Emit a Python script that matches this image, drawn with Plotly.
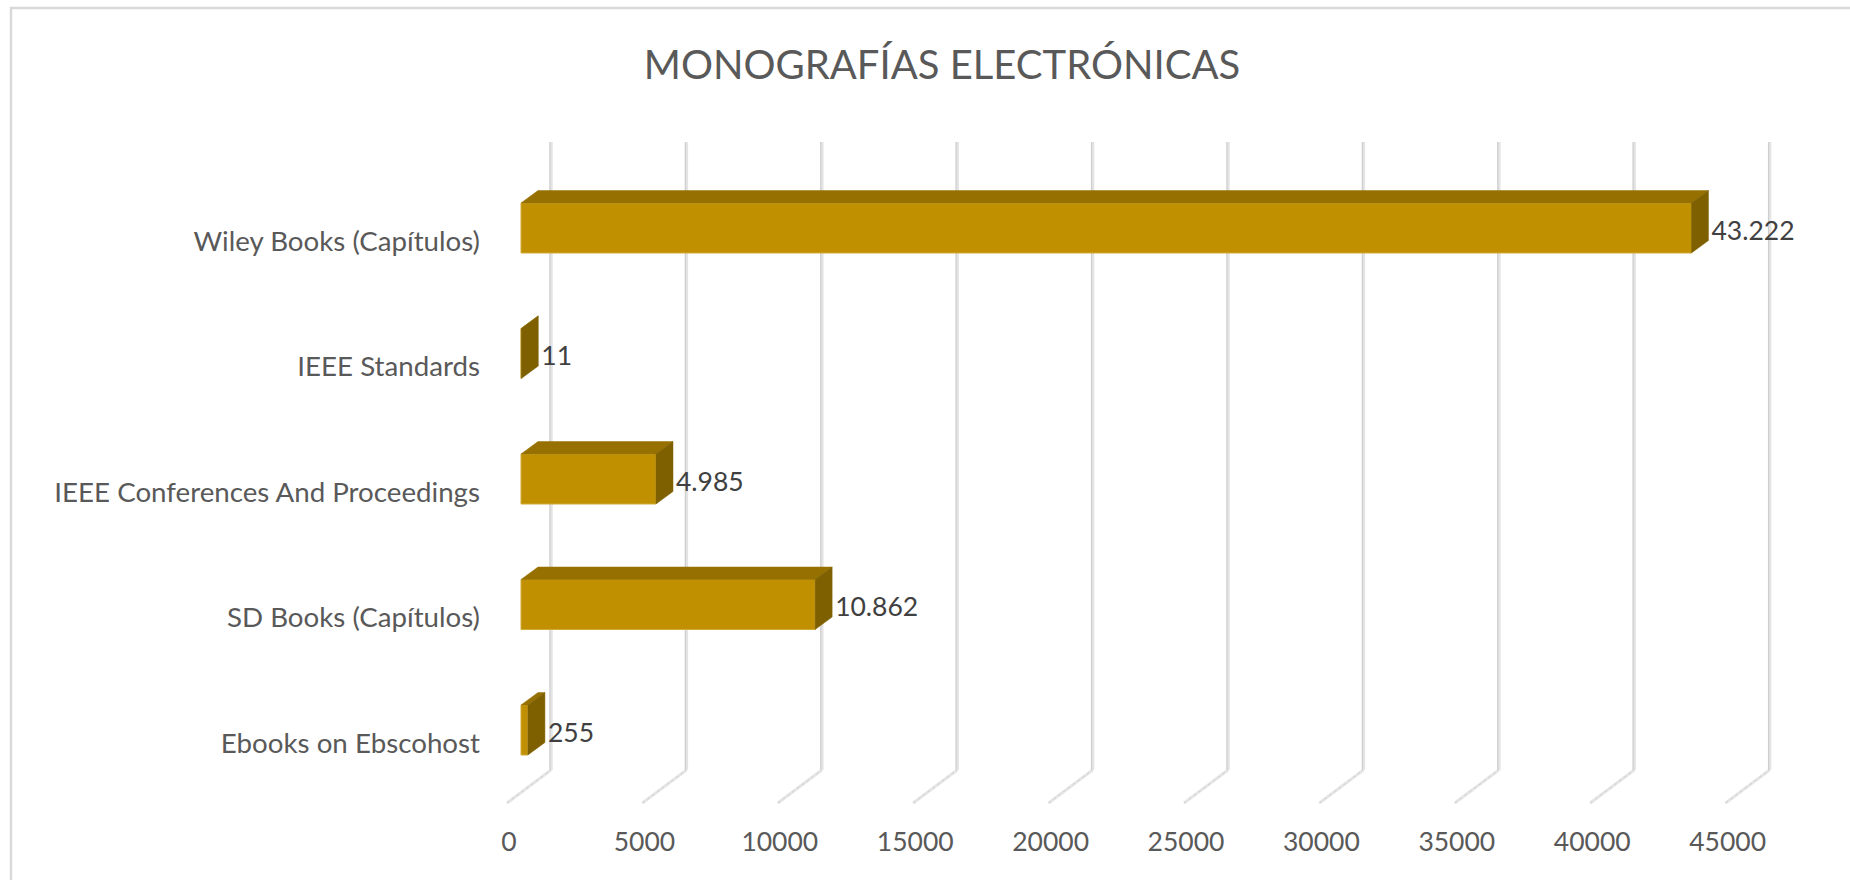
import plotly.graph_objects as go

categories = ["Ebooks on Ebscohost", "SD Books (Capítulos)", "IEEE Conferences And Proceedings", "IEEE Standards", "Wiley Books (Capítulos)"]
values = [255, 10862, 4985, 11, 43222]
value_labels = ["255", "10.862", "4.985", "11", "43.222"]
x_ticks = [0, 5000, 10000, 15000, 20000, 25000, 30000, 35000, 40000, 45000]

W, H = 1850, 880
FONT = "Lato"
# pixel geometry of the plot
PX_LEFT, PX_RIGHT, PX_TOP, PX_BOTTOM = 490, 1800, 130, 806
X0_PX = 509            # pixel of value 0 on the tick label plane
PX_PER_UNIT = 135.4 / 5000
Y0_PX = 743            # pixel of first category label
PX_PER_CAT = 125.5


def xpx(dpx):
    return dpx / PX_PER_UNIT


def ypx(p):
    return (Y0_PX - p) / PX_PER_CAT


x_range = [xpx(PX_LEFT - X0_PX), xpx(PX_RIGHT - X0_PX)]
y_range = [ypx(PX_BOTTOM), ypx(PX_TOP)]

BAR_SHIFT = xpx(521 - X0_PX)
DX, DY = xpx(17), 12.5 / PX_PER_CAT
BAR_H = 50 / PX_PER_CAT
BAR_UP = 13 / PX_PER_CAT
ypos = [i + BAR_UP for i in range(len(categories))]

fig = go.Figure()
fig.add_trace(go.Bar(
    y=ypos, x=values, base=BAR_SHIFT, orientation="h", width=BAR_H,
    marker=dict(color="#c09000", line=dict(color="#d2aa38", width=1)),
    hoverinfo="skip", showlegend=False))

top_x, top_y, side_x, side_y = [], [], [], []
for v, y in zip(values, ypos):
    x0 = BAR_SHIFT
    x1 = BAR_SHIFT + v
    yt = y + BAR_H / 2
    yb = y - BAR_H / 2
    top_x += [x0, x1, x1 + DX, x0 + DX, x0, None]
    top_y += [yt, yt, yt + DY, yt + DY, yt, None]
    side_x += [x1, x1 + DX, x1 + DX, x1, x1, None]
    side_y += [yt, yt + DY, yb + DY, yb, yt, None]

fig.add_trace(go.Scatter(x=top_x, y=top_y, mode="lines", fill="toself", fillcolor="#967000",
                         line=dict(color="#967000", width=0.5), hoverinfo="skip", showlegend=False))
fig.add_trace(go.Scatter(x=side_x, y=side_y, mode="lines", fill="toself", fillcolor="#7f6000",
                         line=dict(color="#7f6000", width=0.5), hoverinfo="skip", showlegend=False))
fig.add_trace(go.Scatter(
    x=[BAR_SHIFT + v + DX + xpx(3) for v in values],
    y=[y - 5 / PX_PER_CAT for y in ypos],
    mode="text", text=value_labels, textposition="middle right",
    textfont=dict(family=FONT, size=26.5, color="#404040"),
    hoverinfo="skip", showlegend=False))

shapes = []
for t in x_ticks:
    xf = t + xpx(507 - X0_PX)
    xb = t + xpx(551 - X0_PX)
    shapes.append(dict(type="line", layer="below", xref="x", yref="y", x0=xf, x1=xb,
                       y0=ypx(803), y1=ypx(770), line=dict(color="#e6e6e6", width=3)))
    shapes.append(dict(type="line", layer="below", xref="x", yref="y", x0=xf, x1=xb,
                       y0=ypx(803), y1=ypx(770), line=dict(color="#d0d0d0", width=1, dash="dot")))
    shapes.append(dict(type="line", layer="below", xref="x", yref="y", x0=xb, x1=xb,
                       y0=ypx(770), y1=ypx(142), line=dict(color="#e4e4e4", width=3.5)))
    shapes.append(dict(type="line", layer="below", xref="x", yref="y", x0=xb - xpx(1), x1=xb - xpx(1),
                       y0=ypx(770), y1=ypx(142), line=dict(color="#cccccc", width=1)))
# chart frame
shapes.append(dict(type="rect", layer="below", xref="paper", yref="paper",
                   x0=11 / W, x1=1 + 20 / W, y0=-0.05, y1=1 - 8 / H,
                   line=dict(color="#d9d9d9", width=2.5)))

fig.update_layout(
    width=W, height=H, margin=dict(l=0, r=0, t=0, b=0, autoexpand=False),
    paper_bgcolor="white", plot_bgcolor="rgba(0,0,0,0)",
    shapes=shapes, showlegend=False, barmode="overlay",
    title=dict(text="MONOGRAFÍAS ELECTRÓNICAS", x=942 / W, xanchor="center", y=1 - 65 / H, yanchor="middle",
               font=dict(family=FONT, size=40, color="#595959")),
    xaxis=dict(domain=[PX_LEFT / W, PX_RIGHT / W], range=x_range, tickmode="array", tickvals=x_ticks,
               ticktext=[str(t) for t in x_ticks], showgrid=False, zeroline=False, showline=False,
               ticks="", ticklabelstandoff=17, tickfont=dict(family=FONT, size=26.5, color="#595959")),
    yaxis=dict(domain=[1 - PX_BOTTOM / H, 1 - PX_TOP / H], range=y_range, tickmode="array",
               tickvals=list(range(len(categories))), ticktext=categories, showgrid=False, zeroline=False,
               showline=False, ticks="", ticklabelstandoff=9, tickfont=dict(family=FONT, size=27.7, color="#595959")),
    hovermode=False,
)

fig.write_html("out.html", config={"displayModeBar": False},
               post_script="document.body.style.margin='0';document.body.style.overflow='hidden';")
